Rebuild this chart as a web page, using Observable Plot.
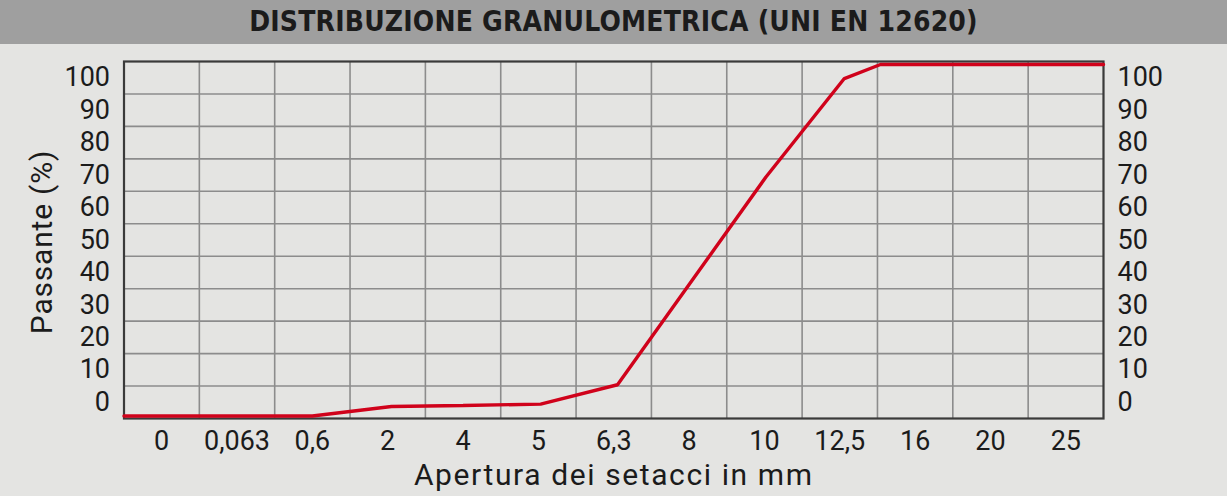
<!DOCTYPE html>
<html>
<head>
<meta charset="utf-8">
<script src="https://cdn.jsdelivr.net/npm/d3@7"></script>
<script src="https://cdn.jsdelivr.net/npm/@observablehq/plot@0.6"></script>
<style>
  html, body { margin: 0; padding: 0; background: #e4e4e2; overflow: hidden; }
  #title {
    height: 44px; background: #9f9f9f; color: #1b1b1b;
    font-family: "DejaVu Sans Condensed", "DejaVu Sans", sans-serif; font-weight: bold;
    font-size: 28px; line-height: 44px; text-align: center; letter-spacing: 0.2px;
  }
  .xtitle text { letter-spacing: 1.6px; }
  .ytitle text { letter-spacing: 0.8px; }
</style>
</head>
<body>
<div id="title">DISTRIBUZIONE GRANULOMETRICA (UNI EN 12620)</div>
<div id="chart"></div>
<script>
// Sieve openings (x-axis categories, one column each)
const sieves = ["0", "0,063", "0,6", "2", "4", "5", "6,3", "8", "10", "12,5", "16", "20", "25"];
// Y tick labels (one per grid row, bottom to top)
const yLabels = ["0", "10", "20", "30", "40", "50", "60", "70", "80", "90", "100"];
// Grading curve: position along the sieve columns (column units) and % passing
const curvePos  = [0, 2.5, 3.55, 4.5, 5.53, 6.55, 8.52, 9.56, 10.04, 13];
const curvePass = [0, 0,   2.7,  3.0, 3.4,  8.9,  68,   96,   100,   100];

const curve = curvePos.map((p, i) => ({pos: p, pass: curvePass[i]}));

const yDomain = [-0.7, 100.85];
const nRows = yLabels.length;
const rowH = (yDomain[1] - yDomain[0]) / nRows;
const rowEdges = d3.range(nRows + 1).map(i => yDomain[0] + i * rowH);
const rowCenters = yLabels.map((l, i) => yDomain[0] + (i + 0.5) * rowH);
const yLabelOf = new Map(rowCenters.map((c, i) => [c, yLabels[i]]));
const colCenters = sieves.map((s, i) => i + 0.5);
const xLabelOf = new Map(colCenters.map((c, i) => [c, sieves[i]]));

const font = "Roboto, 'Liberation Sans', sans-serif";

const chart = Plot.plot({
  width: 1227,
  height: 452,
  marginTop: 17,
  marginBottom: 78,
  marginLeft: 123.5,
  marginRight: 124,
  style: {background: "transparent", fontFamily: font, fontSize: "27px", color: "#1b1b1b", overflow: "visible"},
  x: {domain: [0, sieves.length]},
  y: {domain: yDomain},
  marks: [
    Plot.ruleX(d3.range(1, sieves.length), {stroke: "#8c8c8c", strokeWidth: 1.6, strokeOpacity: 1}),
    Plot.ruleY(rowEdges.slice(1, -1), {stroke: "#8c8c8c", strokeWidth: 1.6, strokeOpacity: 1}),
    Plot.frame({stroke: "#3a3a3a", strokeWidth: 2.2}),
    Plot.line(curve, {x: "pos", y: "pass", stroke: "#d0021b", strokeWidth: 3.4, strokeLinejoin: "miter"}),
    Plot.axisY(rowCenters, {anchor: "left", tickSize: 0, tickPadding: 14, tickFormat: d => yLabelOf.get(d), fontSize: 27, label: null}),
    Plot.axisY(rowCenters, {anchor: "right", tickSize: 0, tickPadding: 14, tickFormat: d => yLabelOf.get(d), fontSize: 27, label: null}),
    Plot.axisX(colCenters, {anchor: "bottom", tickSize: 0, tickPadding: 12, tickFormat: d => xLabelOf.get(d), fontSize: 27, label: null}),
    Plot.text(["Apertura dei setacci in mm"], {className: "xtitle", frameAnchor: "bottom", lineAnchor: "middle", textAnchor: "middle", dy: 57, text: d => d, fontSize: 30, fill: "#1b1b1b"}),
    Plot.text(["Passante (%)"], {className: "ytitle", frameAnchor: "left", lineAnchor: "middle", textAnchor: "middle", dx: -82, dy: 2, rotate: -90, text: d => d, fontSize: 30, fill: "#1b1b1b"})
  ]
});
document.getElementById("chart").append(chart);
</script>
</body>
</html>
